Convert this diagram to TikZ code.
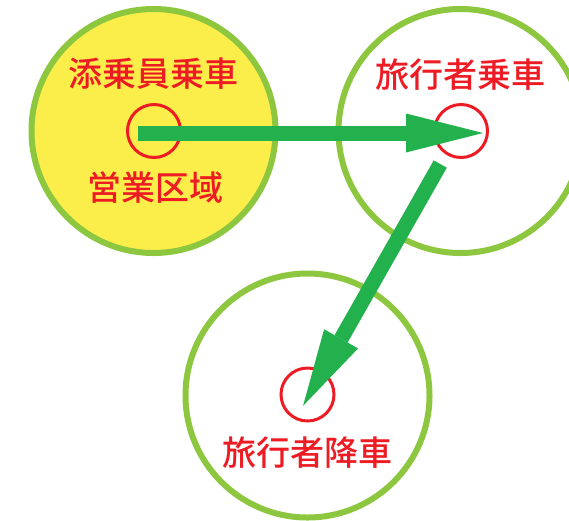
\documentclass[tikz,border=0pt]{standalone}
\usepackage{fontspec}
\newfontfamily\cjk{Noto Sans CJK JP Medium}
\usetikzlibrary{arrows.meta}
\definecolor{ringgreen}{HTML}{8DC63F}
\definecolor{fillyellow}{HTML}{FCEE4A}
\definecolor{arrowgreen}{HTML}{22B14C}
\definecolor{labelred}{HTML}{ED1C24}
\begin{document}
\begin{tikzpicture}[x=1pt,y=-1pt,
  zone/.style={circle, draw=ringgreen, line width=6pt, minimum size=244pt, inner sep=0pt},
  stopmark/.style={circle, draw=labelred, line width=3pt, minimum size=53pt, inner sep=0pt},
  lbl/.style={text=labelred, font=\cjk\fontsize{34pt}{36pt}\selectfont, inner sep=0pt},
  flow/.style={draw=arrowgreen, line width=15pt, -{Triangle[length=77pt,width=39pt,line width=0pt]}}
]
\useasboundingbox (0,0) rectangle (569,520);
\node[zone, fill=fillyellow] (z1) at (153.5,131) {};
\node[zone] (z2) at (460.5,131) {};
\node[zone] (z3) at (307.5,395.5) {};
\node[stopmark] (s1) at (154,131) {};
\node[stopmark] (s2) at (461,131) {};
\node[stopmark] (s3) at (307.5,394.5) {};
\node[lbl] (t1) at (153.5,74) {添乗員乗車};
\node[lbl] (t2) at (155,188) {営業区域};
\node[lbl] (t3) at (460.5,75) {旅行者乗車};
\node[lbl] (t4) at (307.5,453) {旅行者降車};
\draw[flow] ([xshift=-16pt,yshift=-2pt]s1.center) -- ([xshift=22pt,yshift=-2pt]s2.center);
\draw[flow, shorten <=38pt, shorten >=-13pt] ([xshift=-2pt]s2.center) -- ([xshift=2pt]s3.center);
\end{tikzpicture}
\end{document}
